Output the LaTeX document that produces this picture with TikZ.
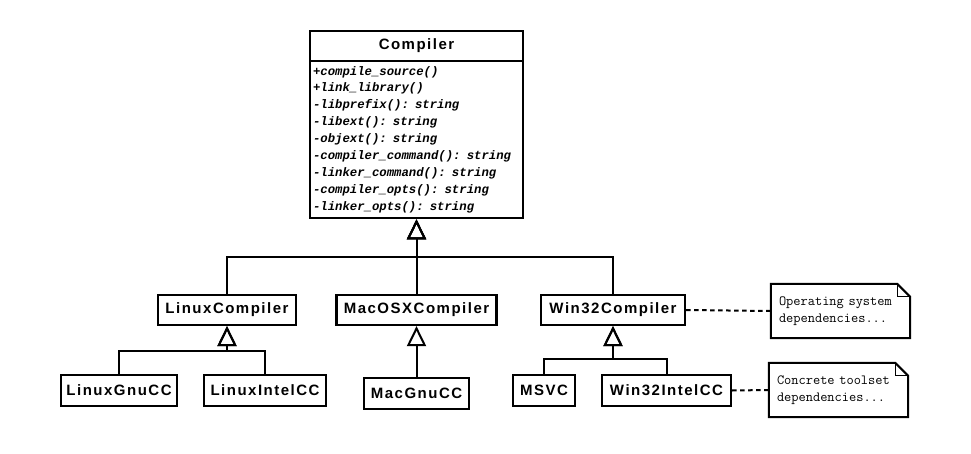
\documentclass[tikz,border=0pt]{standalone}
\usepackage{fontspec}
\usetikzlibrary{arrows.meta,calc}
\newfontfamily\clsfont{Liberation Sans}[LetterSpace=10]
\newfontfamily\memfont{Liberation Mono}
\begin{document}
\begin{tikzpicture}[x=1pt,y=-1pt,
  cls/.style={draw,line width=2.2pt,inner sep=0pt,
    font=\clsfont\bfseries\fontsize{15}{18}\selectfont},
  members/.style={draw,line width=2.2pt,inner xsep=3pt,inner ysep=0pt,
    align=left,text width=207pt,
    font=\memfont\bfseries\itshape\fontsize{12.3}{16.9}\selectfont},
  notetext/.style={inner xsep=8pt,inner ysep=0pt,align=left,text width=123pt,
    minimum height=54pt,font=\ttfamily\fontsize{14}{16.8}\selectfont},
  noteline/.style={line width=2pt,line join=miter},
  inh/.style={line width=2pt,-{Triangle[open,length=20pt,width=19pt]}},
  dotline/.style={line width=2pt,dash pattern=on 4.5pt off 3.5pt}]
\useasboundingbox (0,0) rectangle (971,454);

\node[cls,minimum width=213pt,minimum height=30pt,line width=2.6pt] (compiler) at (416.5,46) {Compiler};
\node[members,minimum height=157pt,line width=2.6pt] (members) at (416.5,139.5) {%
+compile\_source()\\
+link\_library()\\
-libprefix(): string\\
-libext(): string\\
-objext(): string\\
-compiler\_command(): string\\
-linker\_command(): string\\
-compiler\_opts(): string\\
-linker\_opts(): string};

\node[cls,minimum width=138pt,minimum height=30pt] (linux) at (227,310) {LinuxCompiler};
\node[cls,minimum width=160pt,minimum height=30pt] (mac) at (416.5,310) {MacOSXCompiler};
\node[cls,minimum width=144pt,minimum height=30pt] (win) at (613,310) {Win32Compiler};

\node[cls,minimum width=116pt,minimum height=31pt] (lgnu) at (119,390.5) {LinuxGnuCC};
\node[cls,minimum width=122pt,minimum height=31pt] (lintel) at (265,390.5) {LinuxIntelCC};
\node[cls,minimum width=105pt,minimum height=31pt] (macgnu) at (416.5,393.5) {MacGnuCC};
\node[cls,minimum width=62pt,minimum height=31pt] (msvc) at (544,390.5) {MSVC};
\node[cls,minimum width=129pt,minimum height=31pt] (wintel) at (666.5,390.5) {Win32IntelCC};

\node[notetext] (note1) at (840.5,311) {Operating system\\dependencies...};
\node[notetext] (note2) at (838.5,390) {Concrete toolset\\dependencies...};
\foreach \n in {note1,note2}{
  \draw[noteline] (\n.north west) -- ($(\n.north east)+(-13,0)$) -- ($(\n.north east)+(0,13)$)
    -- (\n.south east) -- (\n.south west) -- cycle;
  \draw[line width=1pt,line join=miter] ($(\n.north east)+(-13,0)$) -- ($(\n.north east)+(-13,13)$) -- ($(\n.north east)+(0,13)$);
}

\coordinate (bus) at ($(members.south)+(0,38)$);
\draw[inh] (linux.north) |- (bus) -- (members.south);
\draw[inh] (win.north) |- (bus) -- (members.south);
\draw[inh] (mac.north) -- (members.south);

\coordinate (lbus) at ($(linux.south)+(0,25)$);
\draw[inh] (lgnu.north) |- (lbus) -- (linux.south);
\draw[inh] (lintel.north) |- (lbus) -- (linux.south);

\draw[inh] (macgnu.north) -- (mac.south);

\coordinate (wbus) at ($(win.south)+(0,33)$);
\draw[inh] (msvc.north) |- (wbus) -- (win.south);
\draw[inh] (wintel.north) |- (wbus) -- (win.south);

\draw[dotline] (win.east) -- (note1.west);
\draw[dotline] (wintel.east) -- (note2.west);
\end{tikzpicture}
\end{document}
